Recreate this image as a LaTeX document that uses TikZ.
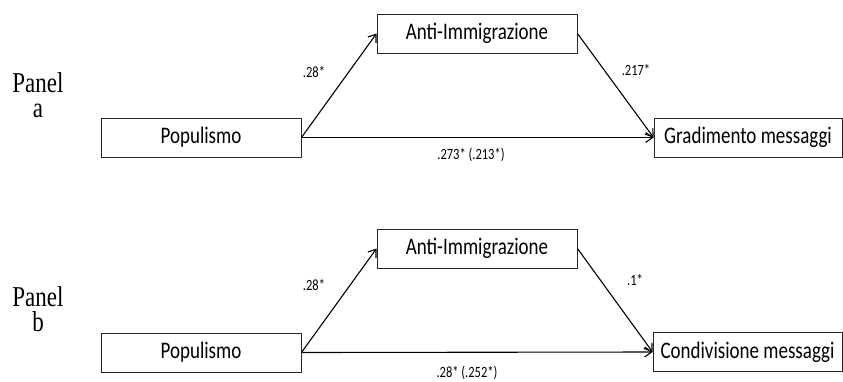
\documentclass[tikz,border=0pt]{standalone}
\usepackage{fontspec}
\setmainfont{Liberation Serif}
\newfontfamily\carlito{Carlito}
\usetikzlibrary{arrows.meta}
\newcommand{\tallt}[1]{\scalebox{1}[1.25]{#1}}
\tikzset{
  varbox/.style={draw=black!85, line width=0.9pt, minimum height=39pt, inner sep=0pt,
    font=\carlito\fontsize{19}{19}\selectfont},
  coef/.style={inner sep=0pt, font=\carlito\fontsize{12.5}{12.5}\selectfont},
  panellab/.style={inner sep=0pt, anchor=base, font=\fontsize{23}{25}\selectfont},
  path/.style={line width=1.1pt, -{Straight Barb[length=7pt,width=10pt,line width=1.1pt]}}
}
\begin{document}
\begin{tikzpicture}[x=1pt,y=-1pt]
\useasboundingbox (0,0) rectangle (843,381);
% Panel a
\node[panellab] (pa1) at (38,92) {\tallt{Panel}};
\node[panellab] (pa2) at (38,117) {\tallt{a}};
\node[varbox, minimum width=200pt] (popa) at (201,137.5) {\tallt{Populismo}};
\node[varbox, minimum width=200pt] (antia) at (477,33.5) {\tallt{Anti-Immigrazione}};
\node[varbox, minimum width=188pt] (grad) at (748,137.5) {\tallt{Gradimento messaggi}};
\draw[path] (popa.east) -- (antia.west);
\draw[path] (antia.east) -- (grad.west);
\draw[path] (popa.east) -- (grad.west);
\node[coef] (ca1) at (314,72) {\tallt{.28*}};
\node[coef] (ca2) at (636,70) {\tallt{.217*}};
\node[coef] (ca3) at (471,155) {\tallt{.273* (.213*)}};
% Panel b
\node[panellab] (pb1) at (38,306.5) {\tallt{Panel}};
\node[panellab] (pb2) at (38,331.5) {\tallt{b}};
\node[varbox, minimum width=200pt] (popb) at (201,352.5) {\tallt{Populismo}};
\node[varbox, minimum width=200pt] (antib) at (477,248.5) {\tallt{Anti-Immigrazione}};
\node[varbox, minimum width=189pt] (cond) at (747.5,352) {\tallt{Condivisione messaggi}};
\draw[path] (popb.east) -- (antib.west);
\draw[path] (antib.east) -- (cond.west);
\draw[path] (popb.east) -- (cond.west);
\node[coef] (cb1) at (314,285) {\tallt{.28*}};
\node[coef] (cb2) at (635,280) {\tallt{.1*}};
\node[coef] (cb3) at (467,373) {\tallt{.28* (.252*)}};
\end{tikzpicture}
\end{document}
